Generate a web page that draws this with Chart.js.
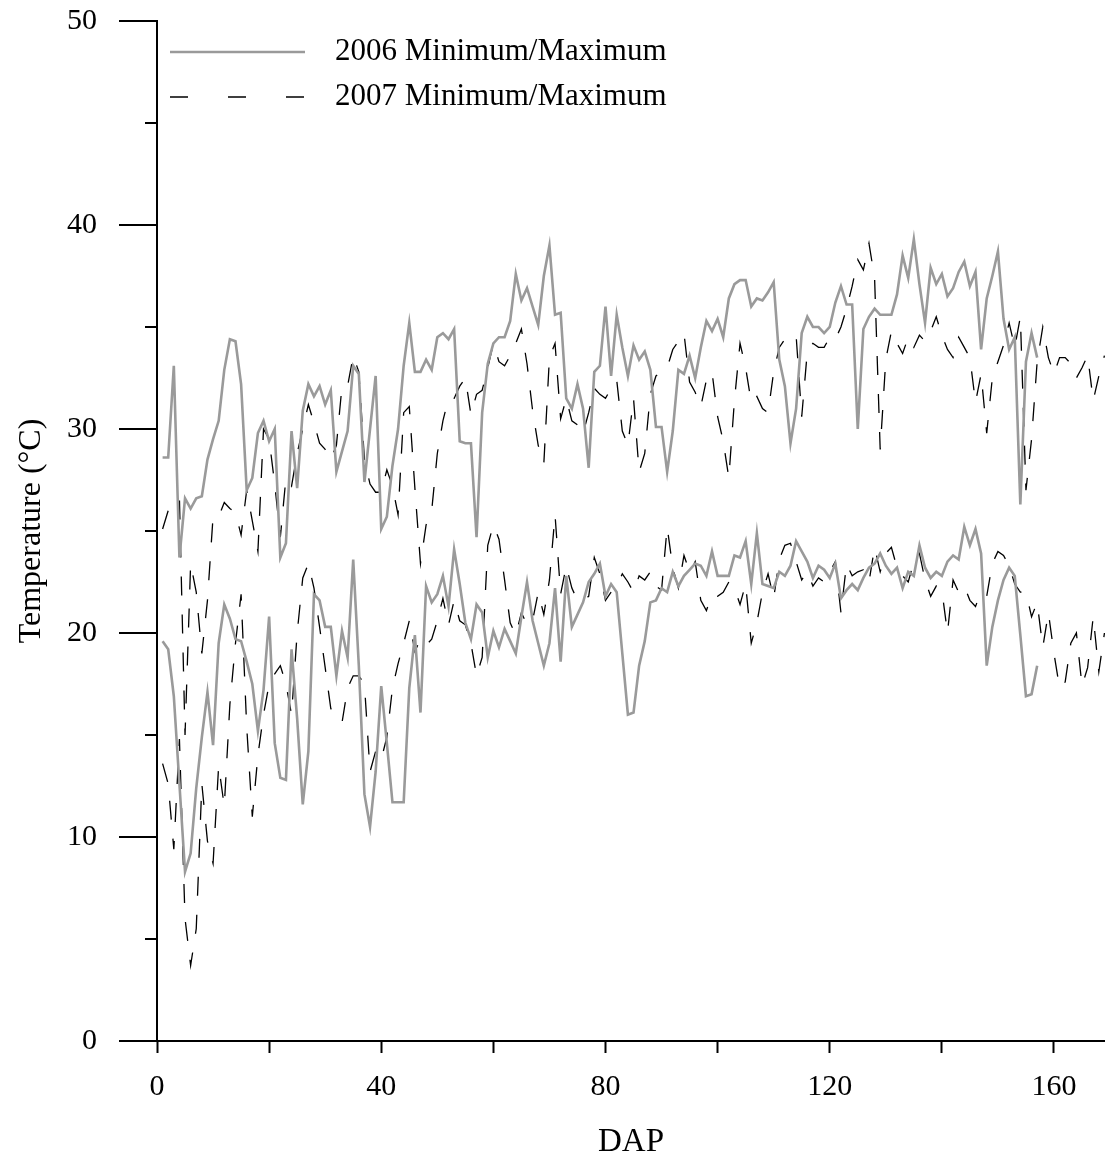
<!DOCTYPE html>
<html>
<head>
<meta charset="utf-8">
<script src="https://cdn.jsdelivr.net/npm/chart.js@4.4.1/dist/chart.umd.min.js"></script>
<style>
  html, body { margin: 0; padding: 0; background: #ffffff; }
  canvas { display: block; }
</style>
</head>
<body>
<canvas id="c" width="1105" height="1175"></canvas>
<script>
// ---------------- DATA ----------------
const DAP = [1,2,3,4,5,6,7,8,9,10,11,12,13,14,15,16,17,18,19,20,21,22,23,24,25,26,27,28,29,30,31,32,33,34,35,36,37,38,39,40,
  41,42,43,44,45,46,47,48,49,50,51,52,53,54,55,56,57,58,59,60,61,62,63,64,65,66,67,68,69,70,71,72,73,74,75,76,77,78,79,80,
  81,82,83,84,85,86,87,88,89,90,91,92,93,94,95,96,97,98,99,100,101,102,103,104,105,106,107,108,109,110,111,112,113,114,115,116,117,118,119,120,
  121,122,123,124,125,126,127,128,129,130,131,132,133,134,135,136,137,138,139,140,141,142,143,144,145,146,147,148,149,150,151,152,153,154,155,156,157,158,159,160,
  161,162,163,164,165,166,167,168,169];

const max2006 = [28.6,28.6,33.1,23.7,26.6,26.1,26.6,26.7,28.5,29.5,30.4,32.9,34.4,34.3,32.2,27.0,27.6,29.8,30.4,29.4,
  30.0,23.7,24.4,29.9,27.1,30.9,32.2,31.6,32.1,31.2,31.9,27.9,28.9,29.9,33.1,32.7,27.4,30.0,32.6,25.1,
  25.7,28.2,30.0,33.1,35.2,32.8,32.8,33.4,32.9,34.5,34.7,34.4,34.9,29.4,29.3,29.3,24.7,30.8,33.2,34.2,
  34.5,34.5,35.3,37.6,36.3,36.9,36.0,35.1,37.5,39.0,35.6,35.7,31.5,31.0,32.2,31.0,28.1,32.8,33.1,36.0,
  32.6,35.6,34.0,32.6,34.1,33.4,33.8,32.9,30.1,30.1,27.9,29.9,32.9,32.7,33.6,32.5,34.0,35.3,34.8,35.4,
  34.5,36.4,37.1,37.3,37.3,36.0,36.4,36.3,36.7,37.2,33.4,32.1,29.3,31.0,34.7,35.5,35.0,35.0,34.7,35.0,
  36.2,37.0,36.1,36.1,30.0,34.9,35.5,35.9,35.6,35.6,35.6,36.6,38.5,37.4,39.3,37.1,35.2,37.9,37.1,37.6,
  36.5,36.9,37.7,38.2,37.0,37.7,33.9,36.4,37.5,38.7,35.4,33.9,34.5,26.3,33.3,34.7,33.5];

const min2006 = [19.6,19.2,16.9,12.6,8.3,9.2,12.4,14.9,17.1,14.5,19.5,21.4,20.7,19.7,19.6,18.6,17.5,15.2,17.2,20.8,
  14.6,12.9,12.8,19.2,15.8,11.6,14.2,21.9,21.6,20.3,20.3,17.9,20.1,18.8,23.6,18.4,12.1,10.5,13.2,17.4,
  14.6,11.7,11.7,11.7,17.3,19.9,16.1,22.3,21.5,21.9,22.8,21.3,24.1,22.4,20.5,19.7,21.4,21.0,18.8,20.1,
  19.3,20.2,19.6,19.0,20.8,22.5,20.6,19.5,18.4,19.5,22.2,18.6,22.8,20.3,20.9,21.5,22.5,22.9,23.4,21.8,
  22.4,22.0,19.0,16.0,16.1,18.4,19.6,21.5,21.6,22.2,22.0,23.0,22.3,22.8,23.1,23.4,23.3,22.8,24.0,22.8,
  22.8,22.8,23.8,23.7,24.5,22.4,24.9,22.4,22.3,22.2,23.0,22.8,23.3,24.5,24.0,23.5,22.7,23.3,23.1,22.7,
  23.4,21.7,22.1,22.4,22.1,22.7,23.2,23.4,23.9,23.3,22.9,23.2,22.2,23.0,22.8,24.3,23.2,22.7,23.0,22.8,
  23.5,23.8,23.6,25.2,24.3,25.1,23.9,18.4,20.3,21.6,22.6,23.2,22.8,19.9,16.9,17.0,18.4];

const max2007 = [25.1,26.0,26.3,26.6,15.0,23.4,22.0,19.0,21.6,25.7,25.7,26.4,26.1,25.9,24.8,27.0,25.5,24.0,30.0,29.5,
  27.3,24.7,27.6,27.2,28.8,30.0,31.2,30.3,29.3,29.0,28.5,29.2,32.1,32.1,33.6,32.8,28.5,27.3,26.9,26.9,
  28.0,27.2,25.8,30.8,31.1,27.1,23.4,25.3,26.0,28.8,30.4,31.5,31.5,32.1,32.5,30.7,31.7,31.9,33.0,34.2,
  33.3,33.1,33.6,34.2,34.9,33.2,30.9,29.2,28.3,33.5,34.2,30.5,31.5,30.4,30.2,29.8,30.8,32.0,31.7,31.5,
  32.0,32.4,29.9,29.2,31.5,27.9,28.8,31.7,32.6,32.8,33.0,33.9,34.3,34.7,32.3,31.8,31.1,32.4,32.8,30.6,
  29.4,27.6,31.4,34.2,33.0,31.3,31.6,31.0,30.8,32.8,34.0,34.4,34.6,34.6,30.6,33.8,34.2,34.0,34.0,34.5,
  34.4,35.0,35.9,37.0,38.3,37.8,39.1,37.4,29.0,33.4,34.8,34.2,33.7,34.5,34.0,34.6,34.3,34.8,35.5,34.6,
  33.9,33.5,34.5,34.0,33.5,31.3,32.7,29.8,32.5,33.3,34.1,35.2,34.0,35.5,27.0,29.5,33.3,35.0,33.5,32.7,
  33.5,33.5,33.2,32.5,33.0,33.6,31.4,32.6,33.6];

const min2007 = [13.6,12.6,9.4,14.8,6.0,3.7,5.5,12.6,9.8,8.7,13.5,11.5,16.5,19.5,21.9,15.4,11.0,14.0,16.0,17.5,
  18.0,18.4,17.5,16.0,20.0,22.7,23.4,22.2,20.3,18.3,16.3,15.9,15.6,17.3,17.9,17.9,17.5,13.2,14.2,13.8,
  14.9,17.3,18.5,19.5,20.6,19.1,19.7,19.4,19.7,20.6,21.7,20.4,21.6,20.6,20.4,19.5,17.9,18.8,24.3,25.3,
  24.6,22.6,20.5,19.9,21.0,20.4,20.6,22.0,20.9,22.6,25.8,21.9,23.3,22.2,21.6,21.6,21.8,23.7,22.9,21.6,
  22.0,22.3,22.9,22.5,22.0,22.8,22.6,23.0,22.3,22.1,25.2,23.2,22.2,23.8,23.0,23.5,21.6,21.1,21.9,21.8,
  22.0,22.5,22.2,21.4,22.4,19.5,20.5,22.0,22.9,21.7,23.6,24.3,24.4,23.5,22.6,23.0,22.3,22.7,22.5,23.0,
  23.5,21.0,23.4,22.8,23.0,23.1,22.5,24.2,23.0,23.9,24.2,23.2,22.8,22.5,23.5,23.9,22.6,21.8,22.3,22.1,
  20.0,22.6,22.0,22.3,21.6,21.3,22.0,21.8,23.4,24.0,23.8,23.3,22.4,22.0,22.0,20.8,21.5,19.3,21.0,19.0,
  17.3,17.6,19.5,20.0,17.4,18.3,20.8,18.1,20.0];

const X_TICK_LABELS = [0, 40, 80, 120, 160];
const Y_TICK_LABELS = [0, 10, 20, 30, 40, 50];
const LEGEND_LABELS = ['2006 Minimum/Maximum', '2007 Minimum/Maximum'];
const AXIS_TITLES = { x: 'DAP', y: 'Temperature (\u00B0C)' };

// ---------------- STYLES ----------------
const FONT = '"Liberation Serif", "Times New Roman", serif';
const GRAY = '#9a9a9a';
const DASH = [19, 19];
const LEGEND_DASH = [18, 40];

function pts(vals) { return vals.map((v, i) => ({ x: DAP[i], y: v })); }

const style2006 = { borderColor: GRAY, borderWidth: 2.6, borderDash: [] };
const style2007 = { borderColor: '#000000', borderWidth: 1.3, borderDash: DASH };

const datasets = [
  Object.assign({ label: LEGEND_LABELS[0], data: pts(max2006) }, style2006),
  Object.assign({ label: LEGEND_LABELS[0] + ' min', data: pts(min2006) }, style2006),
  Object.assign({ label: LEGEND_LABELS[1], data: pts(max2007) }, style2007),
  Object.assign({ label: LEGEND_LABELS[1] + ' min', data: pts(min2007) }, style2007)
];

const MAJOR_TICK = 38;
const MINOR_TICK = 12;
const Y_LABEL_OFFSET = 60;

const whiteBg = {
  id: 'whiteBg',
  beforeDraw(chart) {
    const c = chart.ctx; c.save(); c.fillStyle = '#fff';
    c.fillRect(0, 0, chart.width, chart.height); c.restore();
  }
};

// y-axis tick marks (major longer than minor), placed with the library's own scale
const yTickMarks = {
  id: 'yTickMarks',
  afterDraw(chart) {
    const c = chart.ctx, y = chart.scales.y;
    c.save(); c.strokeStyle = '#000'; c.lineWidth = 2; c.lineCap = 'butt';
    y.ticks.forEach(t => {
      const len = Y_TICK_LABELS.includes(t.value) ? MAJOR_TICK : MINOR_TICK;
      const py = Math.round(y.getPixelForValue(t.value));
      c.beginPath(); c.moveTo(y.right - len, py); c.lineTo(y.right, py); c.stroke();
    });
    c.restore();
  }
};

const legendPlugin = {
  id: 'customLegend',
  afterDraw(chart) {
    const c = chart.ctx, a = chart.chartArea;
    const items = [datasets[0], datasets[2]];
    c.save();
    c.font = '31px ' + FONT; c.fillStyle = '#000'; c.textBaseline = 'middle';
    items.forEach((d, i) => {
      const yy = a.top + 31 + i * 45;
      c.beginPath(); c.strokeStyle = d.borderColor; c.lineWidth = d.borderWidth;
      c.setLineDash(d.borderDash.length ? LEGEND_DASH : []);
      c.moveTo(a.left + 13, yy); c.lineTo(a.left + 148, yy); c.stroke();
      c.setLineDash([]);
      c.fillText(LEGEND_LABELS[i], a.left + 178, yy);
    });
    c.restore();
  }
};

new Chart(document.getElementById('c'), {
  type: 'line',
  data: { datasets },
  plugins: [whiteBg, yTickMarks, legendPlugin],
  options: {
    responsive: false,
    animation: false,
    devicePixelRatio: 1,
    layout: { padding: { top: 21, right: 0, bottom: 0, left: 0 } },
    plugins: { legend: { display: false }, tooltip: { enabled: false } },
    elements: { point: { radius: 0 }, line: { tension: 0, fill: false } },
    scales: {
      x: {
        type: 'linear', min: 0, max: 169.1,
        afterFit(s) { s.height = 134; },
        border: { display: true, color: '#000', width: 2 },
        grid: { drawOnChartArea: false, drawTicks: true, tickLength: MINOR_TICK, color: '#000', tickWidth: 2 },
        ticks: {
          stepSize: 20, includeBounds: false, autoSkip: false, maxRotation: 0,
          padding: 16, color: '#000', font: { family: FONT, size: 30 },
          callback: v => X_TICK_LABELS.includes(v) ? String(v) : ''
        },
        title: { display: true, text: AXIS_TITLES.x, color: '#000', font: { family: FONT, size: 33 }, padding: { top: 0, bottom: 13 } }
      },
      y: {
        type: 'linear', min: 0, max: 50,
        afterFit(s) { s.width = 157; },
        border: { display: true, color: '#000', width: 2 },
        grid: { drawOnChartArea: false, drawTicks: true, tickLength: Y_LABEL_OFFSET, color: 'rgba(0,0,0,0)', tickWidth: 2 },
        ticks: {
          stepSize: 5, autoSkip: false, padding: 0, color: '#000', font: { family: FONT, size: 30 },
          callback: v => Y_TICK_LABELS.includes(v) ? String(v) : ''
        },
        title: { display: true, text: AXIS_TITLES.y, color: '#000', font: { family: FONT, size: 32 }, padding: { top: 12, bottom: 0 } }
      }
    }
  }
});
</script>
</body>
</html>
